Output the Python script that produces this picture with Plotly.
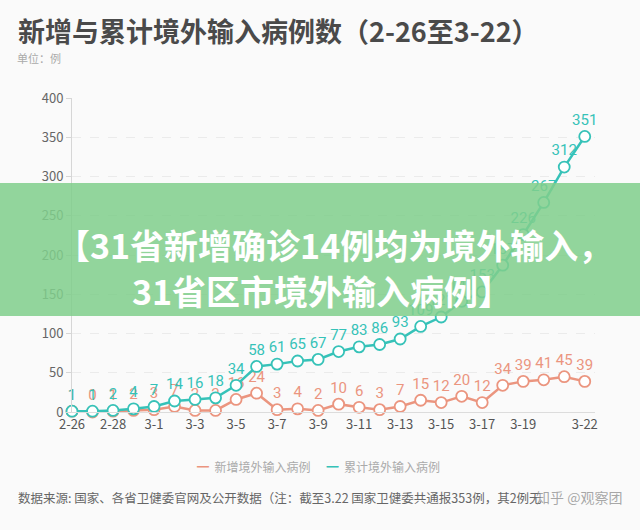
import plotly.graph_objects as go

# dates 2-26 .. 3-22 (2020, so 2-29 is included)
dates = ['2-26', '2-27', '2-28', '2-29',
         '3-1', '3-2', '3-3', '3-4', '3-5', '3-6', '3-7', '3-8', '3-9', '3-10',
         '3-11', '3-12', '3-13', '3-14', '3-15', '3-16', '3-17', '3-18', '3-19',
         '3-20', '3-21', '3-22']

new_cases = [1, 0, 1, 2, 3, 7, 2, 2, 16, 24, 3, 4, 2, 10, 6, 3, 7, 15, 12, 20,
             12, 34, 39, 41, 45, 39]
total_cases = [1, 1, 2, 4, 7, 14, 16, 18, 34, 58, 61, 65, 67, 77, 83, 86, 93,
               109, 121, 141, 153, 187, 226, 267, 312, 351]

tick_labels = ['2-26', '2-28', '3-1', '3-3', '3-5', '3-7', '3-9', '3-11',
               '3-13', '3-15', '3-17', '3-19', '3-22']

ORANGE = '#eb957f'
TEAL = '#36c2b8'
FONT = 'Noto Sans CJK SC'

# plot box in page pixels
L, R, T, B = 72, 595, 98, 412


def px(x):
    return (x - L) / (R - L)


def py(y):
    return (B - y) / (B - T)


def note(fig, text, x, y, size, color, anchor='left'):
    fig.add_annotation(text=text, xref='paper', yref='paper', x=px(x), y=py(y),
                       xanchor=anchor, yanchor='middle', showarrow=False,
                       font=dict(family=FONT, size=size, color=color))


def main():
    fig = go.Figure()

    for name, vals, col in [('新增境外输入病例', new_cases, ORANGE),
                            ('累计境外输入病例', total_cases, TEAL)]:
        fig.add_trace(go.Scatter(
            x=dates, y=vals, mode='lines+markers+text', name=name,
            line=dict(color=col, width=2.5),
            marker=dict(size=11, color='white', line=dict(color=col, width=1.8)),
            text=[str(v) for v in vals], textposition='top center',
            textfont=dict(family='Roboto', size=15, color=col),
            cliponaxis=False, showlegend=False))

    fig.update_layout(
        width=640, height=530,
        margin=dict(l=L, r=640 - R, t=T, b=530 - B),
        paper_bgcolor='#fafafa', plot_bgcolor='#fafafa',
        font=dict(family=FONT, color='#666'),
        xaxis=dict(type='category', range=[0, 25.5],
                   tickvals=tick_labels, ticktext=tick_labels,
                   showgrid=False, showline=True, linecolor='#dcdcdc',
                   ticks='', tickfont=dict(size=13, color='#555')),
        yaxis=dict(range=[0, 400], dtick=50, showline=True,
                   linecolor='#d6d6d6', gridcolor='#ebebeb', griddash='dash',
                   ticks='outside', ticklen=5, tickcolor='#d6d6d6',
                   zeroline=False, tickfont=dict(size=13, color='#666')),
    )

    # title and unit
    note(fig, '<b>新增与累计境外输入病例数（2-26至3-22）</b>', 16, 31, 27, '#4a4a4a')
    note(fig, '单位：例', 15, 58, 11, '#aaa')

    # legend
    note(fig, f"<span style='color:{ORANGE}'>━</span>  新增境外输入病例      "
              f"<span style='color:{TEAL}'>━</span>  累计境外输入病例",
         318, 466, 12, '#aaa', anchor='center')

    # source note + watermark
    note(fig, '数据来源: 国家、各省卫健委官网及公开数据（注：截至3.22 国家卫健委共通报353例，其2例无',
         16, 497, 12.5, '#666')
    note(fig, '知乎 @观察团', 624, 497, 14, 'rgba(140,140,140,0.75)', anchor='right')

    # green headline banner over the chart
    fig.add_shape(type='rect', xref='paper', yref='paper',
                  x0=px(0), x1=px(640), y0=py(316), y1=py(183),
                  fillcolor='rgba(128, 206, 140, 0.86)', line=dict(width=0),
                  layer='above')
    note(fig, '<b>【31省新增确诊14例均为境外输入，</b>', 334, 244, 34, 'white', anchor='center')
    note(fig, '<b>31省区市境外输入病例】</b>', 322, 290, 34, 'white', anchor='center')

    fig.write_html('out.html', config={'displayModeBar': False},
                   post_script="document.body.style.margin='0';"
                               "document.body.style.background='#fafafa';")


if __name__ == "__main__":
    main()
